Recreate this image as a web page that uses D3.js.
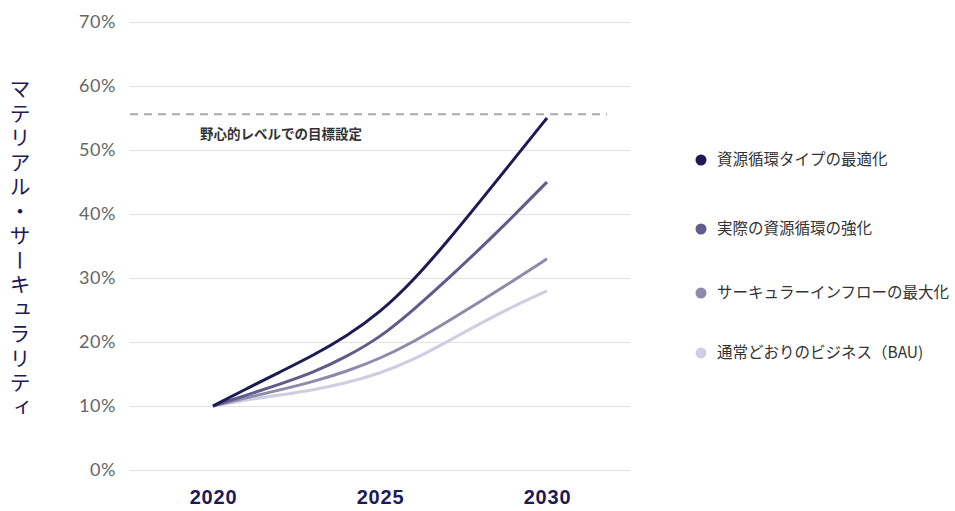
<!DOCTYPE html>
<html>
<head>
<meta charset="utf-8">
<script src="https://cdn.jsdelivr.net/npm/d3@7"></script>
<style>
  body { margin: 0; background: #fff; }
  svg { font-family: "Noto Sans CJK JP", "Noto Sans", sans-serif; }
</style>
</head>
<body>
<div id="chart"></div>
<script>
var width = 955;
var height = 511;

// data
var years = [2020, 2021, 2022, 2023, 2024, 2025, 2026, 2027, 2028, 2029, 2030];
var seriesNames = ["資源循環タイプの最適化", "実際の資源循環の強化", "サーキュラーインフローの最大化", "通常どおりのビジネス（BAU)"];
var optimal  = [10, 12.7, 15.3, 17.9, 20.9, 24.6, 29.6, 35.6, 42.0, 48.5, 55];
var actual   = [10, 11.7, 13.4, 15.2, 17.7, 20.7, 25.0, 29.7, 34.6, 39.7, 45];
var inflow   = [10, 11.3, 12.5, 13.8, 15.4, 17.4, 20.0, 23.1, 26.3, 29.6, 33];
var bau      = [10, 11.0, 11.7, 12.5, 13.6, 15.1, 17.2, 20.0, 22.9, 25.6, 28];
var yTicks = [0, 10, 20, 30, 40, 50, 60, 70];
var xTicks = [2020, 2025, 2030];
var target = 55.6;
var targetLabel = "野心的レベルでの目標設定";
var yTitle = "マテリアル・サーキュラリティ";

var colors = ["#1d1a56", "#5f5b8b", "#8d8aab", "#cfcee0"];
var allSeries = [optimal, actual, inflow, bau];

var svg = d3.select("#chart").append("svg")
  .attr("width", width)
  .attr("height", height);

var x = d3.scaleLinear().domain([2020, 2030]).range([213, 547]);
var y = d3.scaleLinear().domain([0, 70]).range([470, 22]);

// grid lines + y labels
var yAxis = d3.axisLeft(y).tickValues(yTicks).tickSize(-500).tickFormat(function(d) { return d + "%"; });
var gy = svg.append("g").attr("transform", "translate(130,0)").call(yAxis);
gy.select(".domain").remove();
gy.selectAll(".tick line").attr("stroke", "#e2e2e2").attr("stroke-width", 1);
gy.selectAll(".tick text")
  .attr("x", -14)
  .attr("fill", "#666")
  .style("font-family", "Lato, 'Noto Sans', sans-serif")
  .style("font-size", "18px")
  .style("font-weight", "400")
  .style("letter-spacing", "0.6px");

// x labels
var xAxis = d3.axisBottom(x).tickValues(xTicks).tickSize(0).tickFormat(d3.format("d"));
var gx = svg.append("g").attr("transform", "translate(0,487)").call(xAxis);
gx.select(".domain").remove();
gx.selectAll(".tick text")
  .attr("dy", "0.71em")
  .attr("fill", "#1d1a56")
  .style("font-size", "20px")
  .style("font-weight", "bold")
  .style("letter-spacing", "0.8px");

// target line
svg.append("line")
  .attr("x1", 130).attr("x2", 607)
  .attr("y1", y(target)).attr("y2", y(target))
  .attr("stroke", "#aaaaaa")
  .attr("stroke-width", 2)
  .attr("stroke-dasharray", "8,6");

svg.append("text")
  .attr("x", 200)
  .attr("y", y(target) + 25)
  .attr("fill", "#333")
  .style("font-size", "13.5px")
  .style("font-weight", "bold")
  .text(targetLabel);

// lines
var line = d3.line()
  .x(function(d, i) { return x(years[i]); })
  .y(function(d) { return y(d); })
  .curve(d3.curveBasis);

svg.selectAll(".series")
  .data(allSeries.slice().reverse())
  .enter()
  .append("path")
  .attr("class", "series")
  .attr("fill", "none")
  .attr("stroke", function(d, i) { return colors[colors.length - 1 - i]; })
  .attr("stroke-width", 3)
  .attr("d", line);

// legend
var legendY = [160, 229, 293, 353];
var legend = svg.selectAll(".legend")
  .data(seriesNames)
  .enter()
  .append("g")
  .attr("class", "legend")
  .attr("transform", function(d, i) { return "translate(701," + legendY[i] + ")"; });

legend.append("circle")
  .attr("r", 5.5)
  .attr("fill", function(d, i) { return colors[i]; });

legend.append("text")
  .attr("x", 16)
  .attr("dy", "0.35em")
  .attr("fill", "#333")
  .style("font-size", "15.5px")
  .text(function(d) { return d; });

// y title (vertical)
svg.append("text")
  .attr("x", 20)
  .attr("y", 78)
  .attr("fill", "#1d1a56")
  .style("writing-mode", "vertical-rl")
  .style("font-size", "21px")
  .style("letter-spacing", "3.5px")
  .text(yTitle);
</script>
</body>
</html>
